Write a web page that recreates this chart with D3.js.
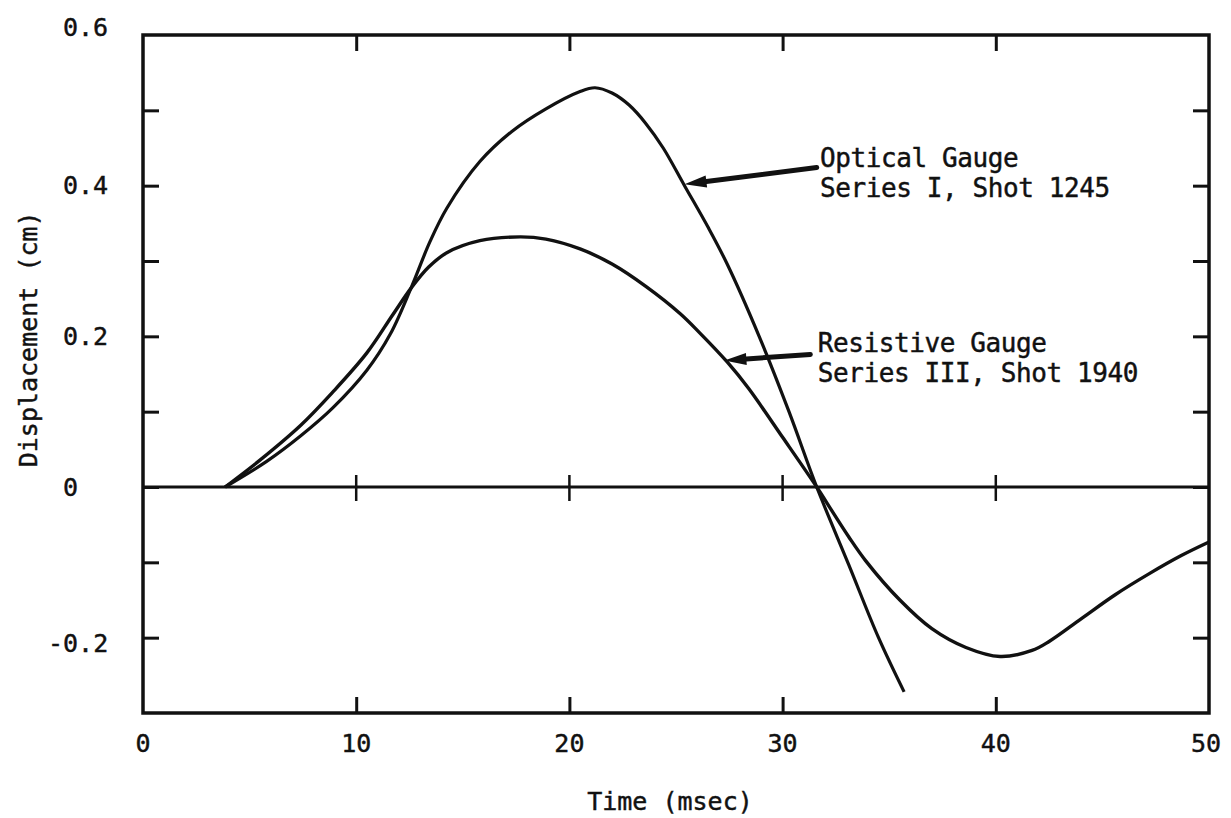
<!DOCTYPE html>
<html>
<head>
<meta charset="utf-8">
<script src="https://cdn.jsdelivr.net/npm/d3@7"></script>
<style>
  html, body { margin: 0; padding: 0; background: #fff; }
  svg { display: block; }
  text { font-family: "DejaVu Sans Mono", "Liberation Mono", monospace; fill: #111; stroke: #111; stroke-width: 0.45px; }
</style>
</head>
<body>
<svg id="chart" width="1231" height="818"></svg>
<script>
// ---- Data ----
const opticalTime = [3.85, 5.8, 7.4, 8.9, 10.5, 11.6, 12.6, 13.45, 14.25, 15.8, 17.3, 18.9, 20.5, 21.2, 22.0, 22.8, 23.6, 24.4, 25.4, 26.5, 27.4, 28.9, 30.3, 31.6, 33.1, 34.5, 35.7];
const opticalDisp = [0, 0.034, 0.068, 0.105, 0.155, 0.203, 0.266, 0.325, 0.370, 0.432, 0.472, 0.502, 0.525, 0.530, 0.523, 0.507, 0.482, 0.450, 0.400, 0.345, 0.296, 0.200, 0.100, 0.0, -0.103, -0.200, -0.272];

const resistiveTime = [3.85, 5.5, 7.4, 8.9, 10.5, 11.7, 12.6, 13.4, 14.25, 15.8, 17.7, 18.9, 20.5, 22.0, 23.6, 25.2, 26.1, 27.4, 28.4, 30.0, 31.6, 32.3, 33.1, 33.9, 35.5, 37.0, 38.6, 40.2, 41.7, 42.5, 44.0, 45.6, 47.2, 48.7, 50.0];
const resistiveDisp = [0, 0.036, 0.082, 0.126, 0.178, 0.228, 0.265, 0.292, 0.311, 0.327, 0.332, 0.329, 0.316, 0.296, 0.266, 0.230, 0.205, 0.166, 0.131, 0.066, 0.0, -0.031, -0.066, -0.098, -0.150, -0.188, -0.213, -0.225, -0.217, -0.205, -0.175, -0.143, -0.115, -0.091, -0.073];

const xTickValues = [0, 10, 20, 30, 40, 50];
const xTickLabels = ["0", "10", "20", "30", "40", "50"];
const yLabelValues = [0.6, 0.4, 0.2, 0, -0.2];
const yLabelTexts = ["0.6", "0.4", "0.2", "0", "-0.2"];
const yMinorTicks = [0.5, 0.4, 0.3, 0.2, 0.1, 0.0, -0.1, -0.2];

const annotations = [
  { lines: ["Optical Gauge", "Series I, Shot 1245"], textT: 31.75, textV: 0.425, tailT: 31.6, tailV: 0.424, tipT: 25.4, tipV: 0.402 },
  { lines: ["Resistive Gauge", "Series III, Shot 1940"], textT: 31.65, textV: 0.179, tailT: 31.3, tailV: 0.176, tipT: 27.27, tipV: 0.168 }
];

const xTitle = "Time (msec)";
const yTitle = "Displacement (cm)";

// ---- Scales ----
const svg = d3.select("#chart");
const x = d3.scaleLinear().domain([0, 50]).range([143, 1209]);
const y = d3.scaleLinear().domain([-0.3, 0.6]).range([713, 35]);

const ink = "#111";

// Frame ticks via d3 axes (inward)
const tickLen = 16;
const leftAxis = d3.axisLeft(y).tickValues(yMinorTicks).tickSize(-tickLen).tickFormat("");
const rightAxis = d3.axisRight(y).tickValues(yMinorTicks).tickSize(-tickLen).tickFormat("");
const topAxis = d3.axisTop(x).tickValues([10, 20, 30, 40]).tickSize(-tickLen).tickFormat("");
const bottomAxis = d3.axisBottom(x).tickValues([10, 20, 30, 40]).tickSize(-tickLen).tickFormat("");

function styleAxis(g) {
  g.select(".domain").remove();
  g.selectAll(".tick line").attr("stroke", ink).attr("stroke-width", 3);
}
svg.append("g").attr("transform", `translate(${x(0)},0)`).call(leftAxis).call(styleAxis);
svg.append("g").attr("transform", `translate(${x(50)},0)`).call(rightAxis).call(styleAxis);
svg.append("g").attr("transform", `translate(0,${y(0.6)})`).call(topAxis).call(styleAxis);
svg.append("g").attr("transform", `translate(0,${y(-0.3)})`).call(bottomAxis).call(styleAxis);

// Zero line with crossing ticks
svg.append("line")
  .attr("x1", x(0)).attr("x2", x(50)).attr("y1", y(0)).attr("y2", y(0))
  .attr("stroke", ink).attr("stroke-width", 3);
svg.append("g").selectAll("line").data([10, 20, 30, 40]).join("line")
  .attr("x1", d => x(d)).attr("x2", d => x(d))
  .attr("y1", y(0) - 12).attr("y2", y(0) + 14)
  .attr("stroke", ink).attr("stroke-width", 2.5);

// Frame
svg.append("rect")
  .attr("x", x(0)).attr("y", y(0.6))
  .attr("width", x(50) - x(0)).attr("height", y(-0.3) - y(0.6))
  .attr("fill", "none").attr("stroke", ink).attr("stroke-width", 3.5);

// Curves
const line = d3.line().curve(d3.curveCatmullRom.alpha(0.5)).x(d => x(d[0])).y(d => y(d[1]));
const opticalPts = opticalTime.map((t, i) => [t, opticalDisp[i]]);
const resistivePts = resistiveTime.map((t, i) => [t, resistiveDisp[i]]);
svg.append("path").attr("d", line(opticalPts)).attr("fill", "none").attr("stroke", ink).attr("stroke-width", 3.2).attr("stroke-linejoin", "round");
svg.append("path").attr("d", line(resistivePts)).attr("fill", "none").attr("stroke", ink).attr("stroke-width", 3.4).attr("stroke-linejoin", "round");

// Tick labels
const fs = 25;
const charW = 15;
svg.append("g").selectAll("text").data(yLabelValues).join("text")
  .attr("x", (d, i) => 63 - (yLabelTexts[i].startsWith("-") ? charW : 0))
  .attr("y", d => y(d) + (d === 0.6 ? -8 : (d < 0 ? 6 : 0)))
  .attr("dominant-baseline", "central")
  .attr("font-size", fs)
  .text((d, i) => yLabelTexts[i]);

svg.append("g").selectAll("text").data(xTickValues).join("text")
  .attr("x", d => x(d) + (d === 50 ? -3 : 0))
  .attr("y", 743)
  .attr("text-anchor", "middle")
  .attr("dominant-baseline", "central")
  .attr("font-size", fs)
  .text((d, i) => xTickLabels[i]);

// Axis titles
svg.append("text")
  .attr("x", (x(0) + x(50)) / 2 - 6).attr("y", 801)
  .attr("text-anchor", "middle").attr("dominant-baseline", "central")
  .attr("font-size", fs).text(xTitle);
svg.append("text")
  .attr("transform", `translate(28,${y(0.2) + 3}) rotate(-90)`)
  .attr("text-anchor", "middle").attr("dominant-baseline", "central")
  .attr("font-size", fs).text(yTitle);

// Annotations with arrows
annotations.forEach(a => {
  const tx = x(a.tipT), ty = y(a.tipV);
  const sx = x(a.tailT), sy = y(a.tailV);
  const ang = Math.atan2(sy - ty, sx - tx);
  const headLen = 22, headHalf = 6;
  const bx = tx + Math.cos(ang) * headLen, by = ty + Math.sin(ang) * headLen;
  const px = -Math.sin(ang) * headHalf, py = Math.cos(ang) * headHalf;
  svg.append("line")
    .attr("x1", sx).attr("y1", sy).attr("x2", bx).attr("y2", by)
    .attr("stroke", ink).attr("stroke-width", 5).attr("stroke-linecap", "round");
  svg.append("path")
    .attr("d", `M${tx},${ty}L${bx + px},${by + py}L${bx - px},${by - py}Z`)
    .attr("fill", ink);
  const t = svg.append("text")
    .attr("x", x(a.textT)).attr("y", y(a.textV))
    .attr("font-size", 26).attr("letter-spacing", "-0.4px");
  a.lines.forEach((s, i) => {
    t.append("tspan").attr("x", x(a.textT)).attr("dy", i === 0 ? 0 : 30).text(s);
  });
});
</script>
</body>
</html>
